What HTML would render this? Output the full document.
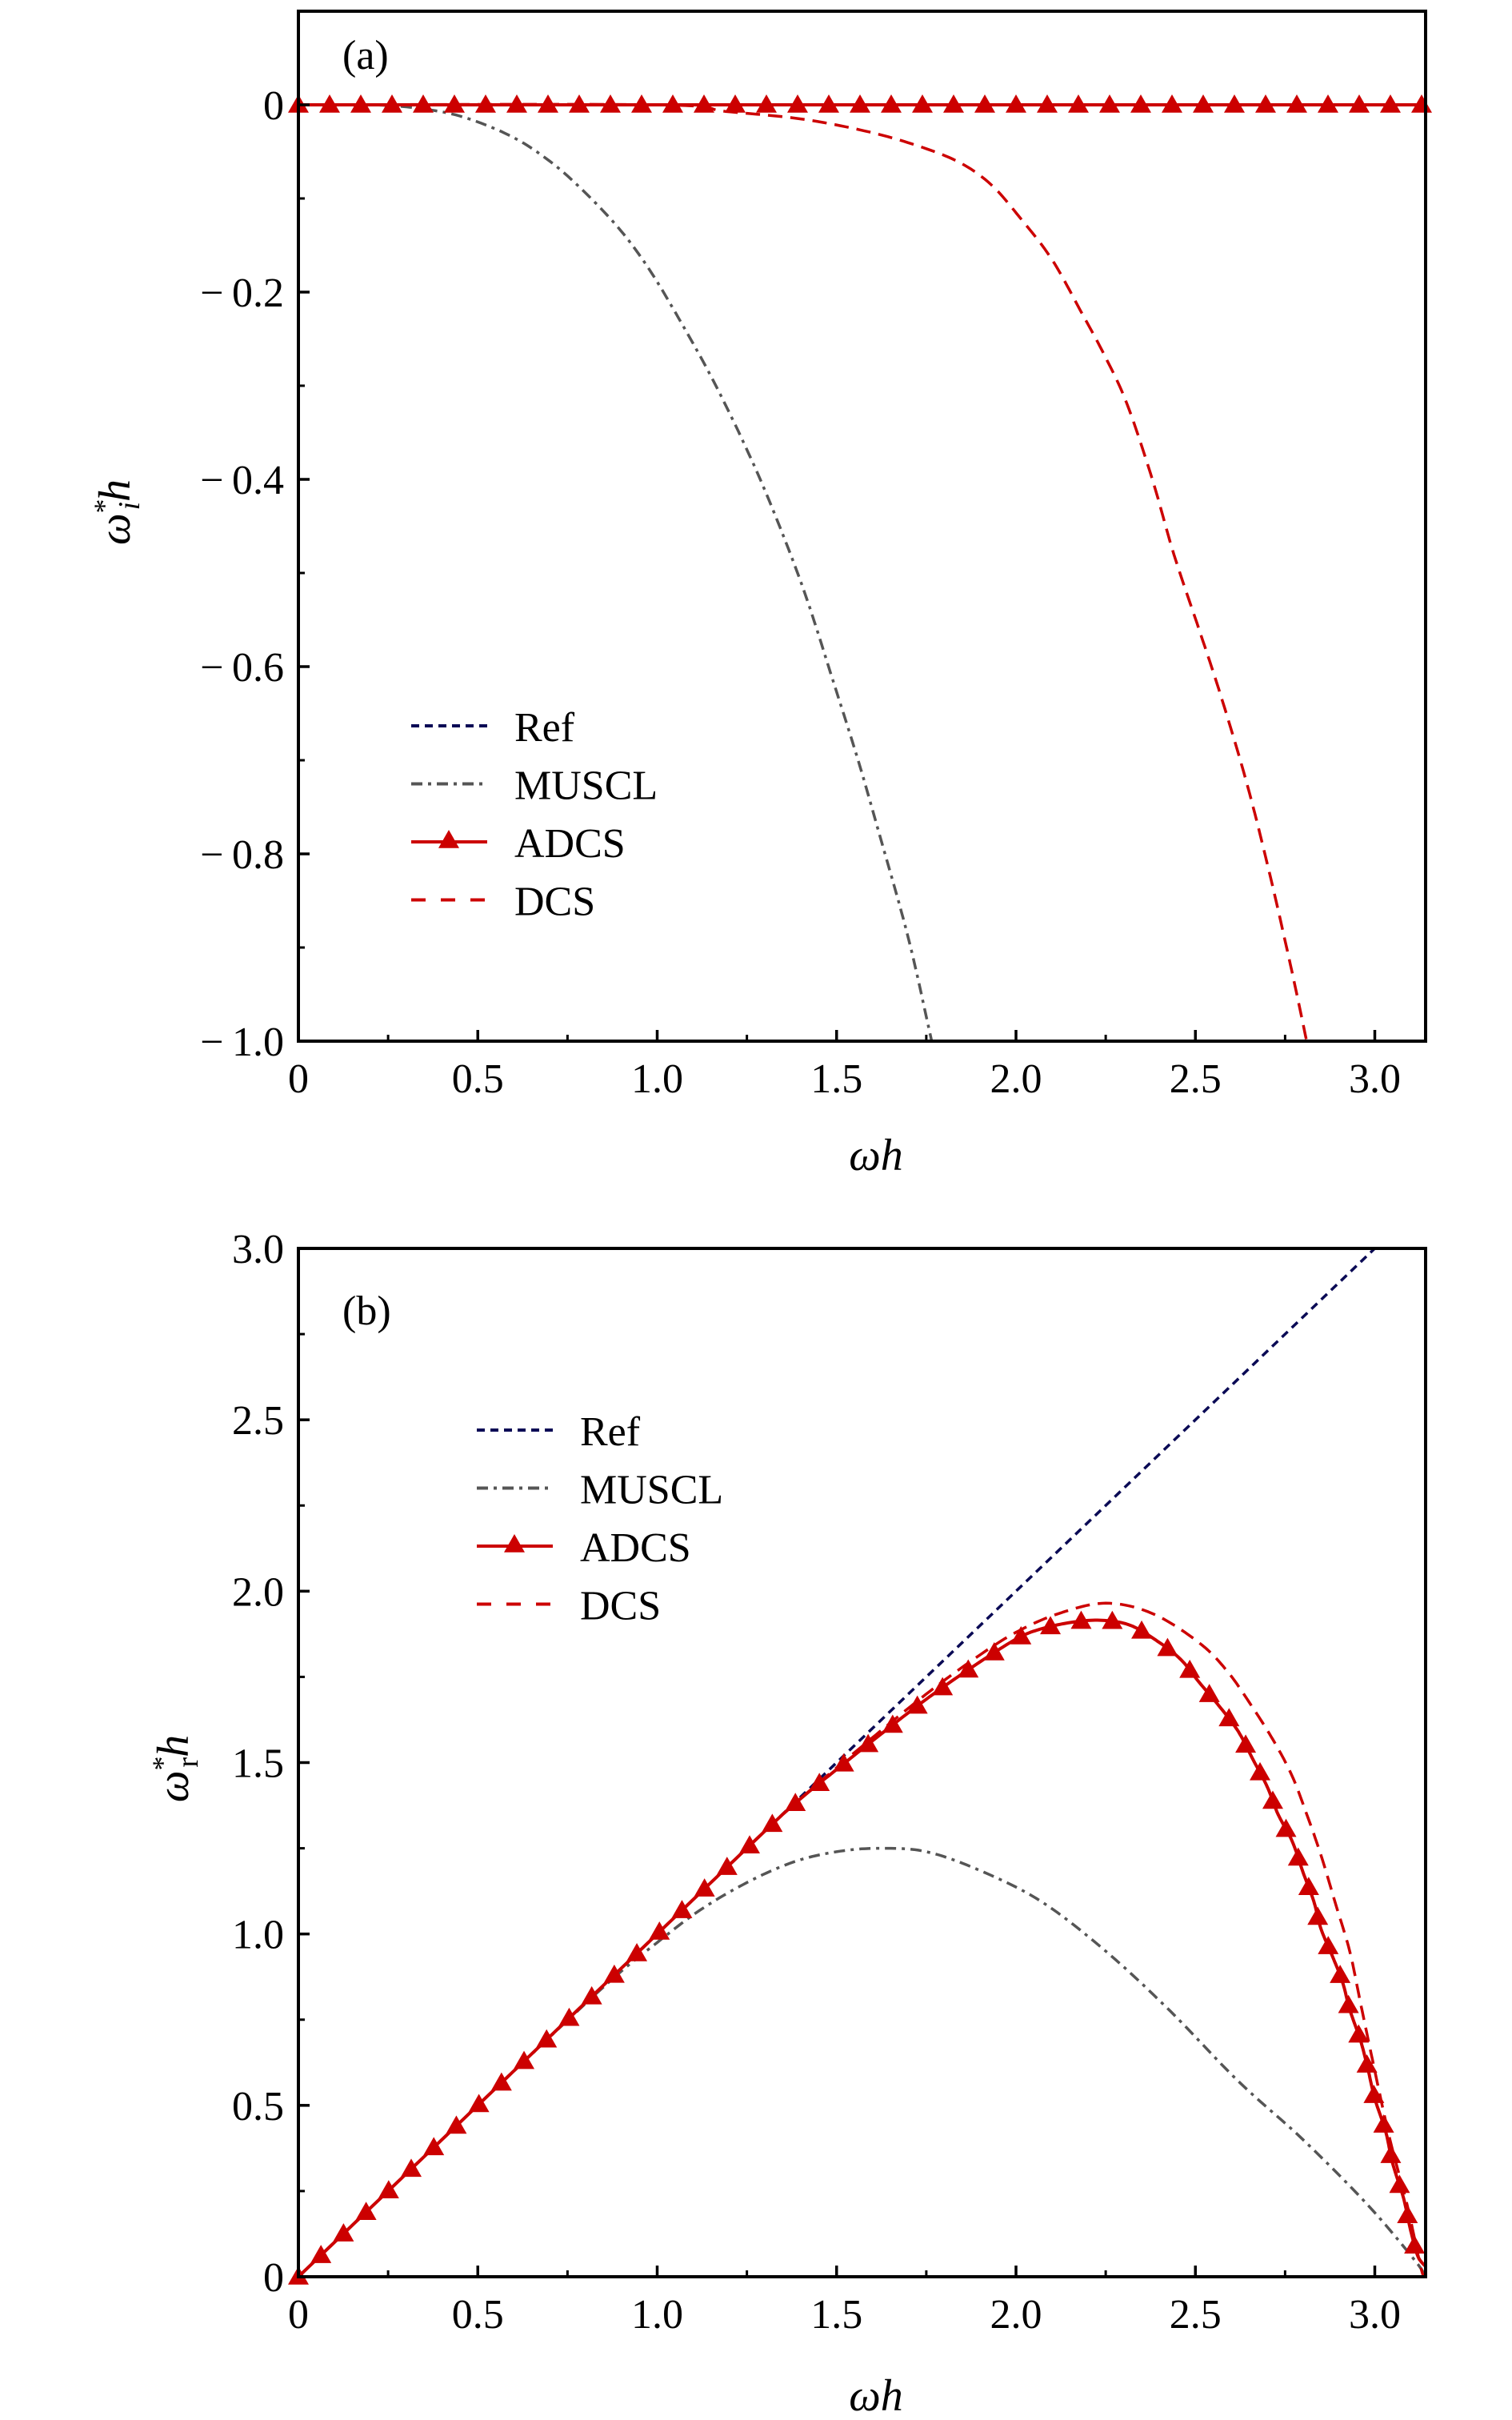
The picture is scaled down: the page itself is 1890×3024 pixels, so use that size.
<!DOCTYPE html>
<html><head><meta charset="utf-8">
<style>
html,body{margin:0;padding:0;background:#fff;}
svg{display:block;}
text{font-family:"Liberation Serif","DejaVu Serif",serif;fill:#000;}
</style></head>
<body>
<svg id="fig" width="1890" height="3024" viewBox="0 0 1890 3024" xmlns="http://www.w3.org/2000/svg">
<defs>
<clipPath id="clipA"><rect x="373" y="14" width="1409" height="1287"/></clipPath>
<clipPath id="clipB"><rect x="373" y="1560" width="1409" height="1285"/></clipPath>
</defs>
<g id="panelA"></g>
<g id="panelB"></g>
</svg>
<script>
// ---- Panel (a): imaginary part ----
const aXTicks = [0, 0.5, 1.0, 1.5, 2.0, 2.5, 3.0];
const aXTickLabels = ["0", "0.5", "1.0", "1.5", "2.0", "2.5", "3.0"];
const aYTicks = [0, -0.2, -0.4, -0.6, -0.8, -1.0];
const aYTickLabels = ["0", "\u2212\u20090.2", "\u2212\u20090.4", "\u2212\u20090.6", "\u2212\u20090.8", "\u2212\u20091.0"];
const aRefX = [0, 3.1416];
const aRefY = [0, 0];
const aMusclX = [0, 0.2, 0.32, 0.45, 0.59, 0.70, 0.80, 0.90, 0.98, 1.06, 1.15, 1.24, 1.32, 1.41, 1.49, 1.56, 1.62, 1.70, 1.765, 1.80];
const aMusclY = [0, 0, -0.003, -0.012, -0.033, -0.060, -0.094, -0.135, -0.177, -0.228, -0.29, -0.36, -0.43, -0.52, -0.615, -0.70, -0.78, -0.89, -1.0, -1.06];
const aAdcsX = [0, 3.1416];
const aAdcsY = [0, 0];
const aDcsX = [0, 1.0, 1.19, 1.40, 1.58, 1.72, 1.84, 1.93, 2.01, 2.10, 2.18, 2.25, 2.31, 2.38, 2.44, 2.51, 2.57, 2.64, 2.70, 2.76, 2.81, 2.84];
const aDcsY = [0, 0, -0.007, -0.015, -0.028, -0.043, -0.061, -0.085, -0.12, -0.165, -0.22, -0.27, -0.32, -0.40, -0.48, -0.56, -0.63, -0.72, -0.81, -0.91, -1.0, -1.06];

// ---- Panel (b): real part ----
const bXTicks = [0, 0.5, 1.0, 1.5, 2.0, 2.5, 3.0];
const bXTickLabels = ["0", "0.5", "1.0", "1.5", "2.0", "2.5", "3.0"];
const bYTicks = [0, 0.5, 1.0, 1.5, 2.0, 2.5, 3.0];
const bYTickLabels = ["0", "0.5", "1.0", "1.5", "2.0", "2.5", "3.0"];
const bRefX = [0, 3.0];
const bRefY = [0, 3.0];
const bMusclX = [0, 0.5, 0.85, 1.0, 1.12, 1.25, 1.38, 1.5, 1.62, 1.75, 1.90, 2.07, 2.25, 2.43, 2.62, 2.80, 2.98, 3.11, 3.1416];
const bMusclY = [0, 0.5, 0.845, 0.975, 1.07, 1.15, 1.21, 1.24, 1.25, 1.24, 1.185, 1.095, 0.95, 0.775, 0.57, 0.40, 0.21, 0.05, 0.0];
const bAdcsX = [0, 0.5, 1.0, 1.3, 1.4, 1.5, 1.62, 1.75, 1.88, 2.0, 2.07, 2.16, 2.24, 2.32, 2.40, 2.46, 2.51, 2.57, 2.62, 2.66, 2.70, 2.73, 2.77, 2.80, 2.83, 2.85, 2.88, 2.91, 2.93, 2.96, 2.98, 3.00, 3.03, 3.05, 3.08, 3.10, 3.12, 3.1416];
const bAdcsY = [0, 0.5, 1.0, 1.3, 1.395, 1.48, 1.58, 1.685, 1.78, 1.86, 1.89, 1.91, 1.915, 1.90, 1.85, 1.80, 1.735, 1.66, 1.59, 1.51, 1.43, 1.35, 1.27, 1.18, 1.095, 1.015, 0.94, 0.86, 0.78, 0.69, 0.61, 0.52, 0.425, 0.33, 0.23, 0.135, 0.06, 0.03];
const bDcsX = [0, 0.5, 1.0, 1.3, 1.4, 1.5, 1.62, 1.75, 1.88, 2.0, 2.12, 2.25, 2.38, 2.51, 2.59, 2.66, 2.72, 2.77, 2.81, 2.85, 2.89, 2.93, 2.96, 2.99, 3.04, 3.09, 3.13, 3.1416];
const bDcsY = [0, 0.5, 1.0, 1.3, 1.395, 1.485, 1.59, 1.70, 1.80, 1.88, 1.935, 1.965, 1.935, 1.85, 1.765, 1.66, 1.56, 1.46, 1.35, 1.23, 1.09, 0.95, 0.80, 0.65, 0.41, 0.21, 0.02, 0.0];

const NS = "http://www.w3.org/2000/svg";
function mk(tag, attrs, parent){
  const e = document.createElementNS(NS, tag);
  for (const k in attrs) e.setAttribute(k, attrs[k]);
  if (parent) parent.appendChild(e);
  return e;
}
function scale(d0, d1, r0, r1){ return v => r0 + (v - d0) * (r1 - r0) / (d1 - d0); }

// Catmull-Rom smoothing in pixel space (rendering only)
function smooth(P){
  if (P.length < 3) return P;
  const out = [];
  for (let i = 0; i < P.length - 1; i++){
    const p0 = P[Math.max(0, i-1)], p1 = P[i], p2 = P[i+1], p3 = P[Math.min(P.length-1, i+2)];
    const n = 12;
    for (let k = 0; k < n; k++){
      const t = k / n, t2 = t*t, t3 = t2*t;
      const f = (a,b,c,d) => 0.5*((2*b) + (-a+c)*t + (2*a-5*b+4*c-d)*t2 + (-a+3*b-3*c+d)*t3);
      out.push([f(p0[0],p1[0],p2[0],p3[0]), f(p0[1],p1[1],p2[1],p3[1])]);
    }
  }
  out.push(P[P.length-1]);
  return out;
}
function ptsStr(P){ return P.map(p => p[0].toFixed(1) + "," + p[1].toFixed(1)).join(" "); }

function triangle(g, cx, cy, name){
  const s = 13;
  const t = mk("polygon", {points: `${cx},${cy - s} ${cx - s},${cy + s * 0.75} ${cx + s},${cy + s * 0.75}`, fill: "#cc0000"}, g);
  
  
  return t;
}

function drawPanel(g, opt){
  const L = 373, R = 1782, T = opt.top, B = opt.bottom;
  const sx = scale(0, Math.PI, L, R);
  const sy = scale(opt.ymin, opt.ymax, B, T);
  const path = (xs, ys) => smooth(xs.map((x, i) => [sx(x), sy(ys[i])]));
  const data = mk("g", {"clip-path": `url(#${opt.clip})`}, g);
  
  

  let ln;
  ln = mk("polyline", {points: ptsStr(path(opt.refX, opt.refY)), fill: "none", stroke: "#0a0a55", "stroke-width": 3.5, "stroke-dasharray": "10 7"}, data);
  
  
  ln = mk("polyline", {points: ptsStr(path(opt.musclX, opt.musclY)), fill: "none", stroke: "#555", "stroke-width": 3.5, "stroke-dasharray": "14 7 4 7", "stroke-linejoin": "round"}, data);
  
  
  ln = mk("polyline", {points: ptsStr(path(opt.dcsX, opt.dcsY)), fill: "none", stroke: "#cc0000", "stroke-width": 3.5, "stroke-dasharray": "18 10", "stroke-linejoin": "round"}, data);
  
  
  const P = path(opt.adcsX, opt.adcsY);
  ln = mk("polyline", {points: ptsStr(P), fill: "none", stroke: "#cc0000", "stroke-width": 4, "stroke-linejoin": "round"}, g);
  
  
  // markers equally spaced along arc length
  const step = 39;
  let acc = 0, next = step;
  triangle(g, P[0][0], P[0][1], 'adcs-marker');
  for (let i = 1; i < P.length; i++){
    const dx = P[i][0] - P[i-1][0], dy = P[i][1] - P[i-1][1];
    const len = Math.hypot(dx, dy);
    while (len > 0 && acc + len >= next){
      const t = (next - acc) / len;
      triangle(g, P[i-1][0] + dx * t, P[i-1][1] + dy * t, 'adcs-marker');
      next += step;
    }
    acc += len;
  }

  const fr = mk("rect", {x: L, y: T, width: R - L, height: B - T, fill: "none", stroke: "#000", "stroke-width": 4}, g);
  
  
  opt.xTicks.forEach((v, i) => {
    const x = sx(v);
    const tk = mk("line", {x1: x, y1: B, x2: x, y2: B - 14, stroke: "#000", "stroke-width": 3.5}, g);
    
    
    const mx = sx(v + 0.25);
    if (v + 0.25 < Math.PI){
      const mt = mk("line", {x1: mx, y1: B, x2: mx, y2: B - 8, stroke: "#000", "stroke-width": 3}, g);
      
      
    }
    const lb = mk("text", {x: x, y: B + 64, "font-size": 52, "text-anchor": "middle"}, g);
    lb.textContent = opt.xTickLabels[i];
    
    
  });
  opt.yTicks.forEach((v, i) => {
    const y = sy(v);
    const tk = mk("line", {x1: L, y1: y, x2: L + 14, y2: y, stroke: "#000", "stroke-width": 3.5}, g);
    
    
    const lb = mk("text", {x: 355, y: y + 18, "font-size": 52, "text-anchor": "end"}, g);
    lb.textContent = opt.yTickLabels[i];
    
    
  });
  for (let v = opt.ymin; v <= opt.ymax + 1e-9; v += opt.yMinor){
    const y = sy(v);
    const mt = mk("line", {x1: L, y1: y, x2: L + 8, y2: y, stroke: "#000", "stroke-width": 3}, g);
    
    
  }
  const pl = mk("text", {x: opt.labX, y: opt.labY, "font-size": 52}, g);
  pl.textContent = opt.panelLabel;
  
  
  const xt = mk("text", {x: 1095, y: opt.xTitleY, "font-size": 56, "font-style": "italic", "text-anchor": "middle"}, g);
  xt.textContent = "ωh";
  
  
  const yt = mk("text", {x: 0, y: 0, "font-size": 56, "font-style": "italic", "text-anchor": "middle", transform: `translate(${opt.yTitleX},${opt.yTitleY}) rotate(-90)`}, g);
  yt.innerHTML = `ω<tspan dy="-20" font-size="36" font-style="normal">*</tspan><tspan dx="-14" dy="32" font-size="38" font-style="${opt.subStyle}">${opt.sub}</tspan><tspan dy="-12">h</tspan>`;
  
  
  const lg = mk("g", {}, g);
  
  
  const names = ["Ref", "MUSCL", "ADCS", "DCS"];
  const styles = [
    {stroke: "#0a0a55", dash: "10 7"},
    {stroke: "#555", dash: "14 7 4 7"},
    {stroke: "#cc0000", dash: ""},
    {stroke: "#cc0000", dash: "18 19"}
  ];
  names.forEach((n, i) => {
    const y = opt.legY + i * 72.5;
    const ent = mk("g", {}, lg);
    
    
    const a = {x1: opt.legX, y1: y, x2: opt.legX + 95, y2: y, stroke: styles[i].stroke, "stroke-width": 4};
    if (styles[i].dash) a["stroke-dasharray"] = styles[i].dash;
    mk("line", a, ent);
    if (n === "ADCS") triangle(ent, opt.legX + 47, y - 2, 'legend-marker');
    const t = mk("text", {x: opt.legX + 129, y: y + 19, "font-size": 52}, ent);
    t.textContent = n;
  });
}

drawPanel(document.getElementById("panelA"), {
  top: 14, bottom: 1301, ymin: -1.0, ymax: 0.1, yMinor: 0.1, clip: "clipA",
  xTicks: aXTicks, xTickLabels: aXTickLabels, yTicks: aYTicks, yTickLabels: aYTickLabels,
  refX: aRefX, refY: aRefY, musclX: aMusclX, musclY: aMusclY, adcsX: aAdcsX, adcsY: aAdcsY, dcsX: aDcsX, dcsY: aDcsY,
  panelLabel: "(a)", labX: 428, labY: 86, xTitleY: 1462, yTitleX: 162, yTitleY: 640,
  sub: "i", subStyle: "italic", legX: 514, legY: 907
});
drawPanel(document.getElementById("panelB"), {
  top: 1560, bottom: 2845, ymin: 0, ymax: 3.0, yMinor: 0.25, clip: "clipB",
  xTicks: bXTicks, xTickLabels: bXTickLabels, yTicks: bYTicks, yTickLabels: bYTickLabels,
  refX: bRefX, refY: bRefY, musclX: bMusclX, musclY: bMusclY, adcsX: bAdcsX, adcsY: bAdcsY, dcsX: bDcsX, dcsY: bDcsY,
  panelLabel: "(b)", labX: 428, labY: 1655, xTitleY: 3012, yTitleX: 235, yTitleY: 2210,
  sub: "r", subStyle: "normal", legX: 596, legY: 1787
});
</script>
</body></html>
